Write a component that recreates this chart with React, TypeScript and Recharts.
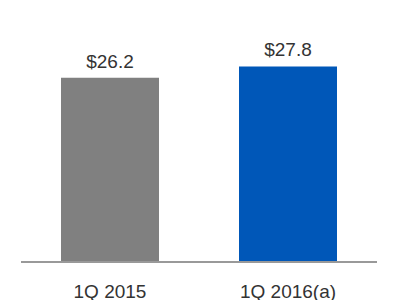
import React from 'react';
import { BarChart, Bar, XAxis, YAxis, LabelList, Cell } from 'recharts';

const categories = ['1Q 2015', '1Q 2016(a)'];
const values = [26.2, 27.8];
const colors = ['#808080', '#0057B8'];

const data = categories.map((c, i) => ({ name: c, value: values[i] }));

export default function App() {
  return (
    <div style={{ position: 'absolute', left: 0, top: 0, background: '#fff' }}>
      <BarChart width={400} height={300} data={data} margin={{ top: 51, right: 23, left: 21, bottom: 0 }}>
        <YAxis hide domain={[0, 30]} />
        <XAxis
          dataKey="name"
          height={38}
          tickLine={false}
          axisLine={{ stroke: '#999999', strokeWidth: 2 }}
          tickMargin={17}
          tick={{ fill: '#333333', fontSize: 19, fontFamily: 'Liberation Sans, Arial, sans-serif' }}
        />
        <Bar dataKey="value" barSize={98} isAnimationActive={false}>
          {data.map((d, i) => (
            <Cell key={d.name} fill={colors[i]} />
          ))}
          <LabelList
            dataKey="value"
            position="top"
            offset={10}
            formatter={(v: any) => `$${Number(v).toFixed(1)}`}
            style={{ fill: '#333333', fontSize: 19, fontFamily: 'Liberation Sans, Arial, sans-serif' }}
          />
        </Bar>
      </BarChart>
    </div>
  );
}
